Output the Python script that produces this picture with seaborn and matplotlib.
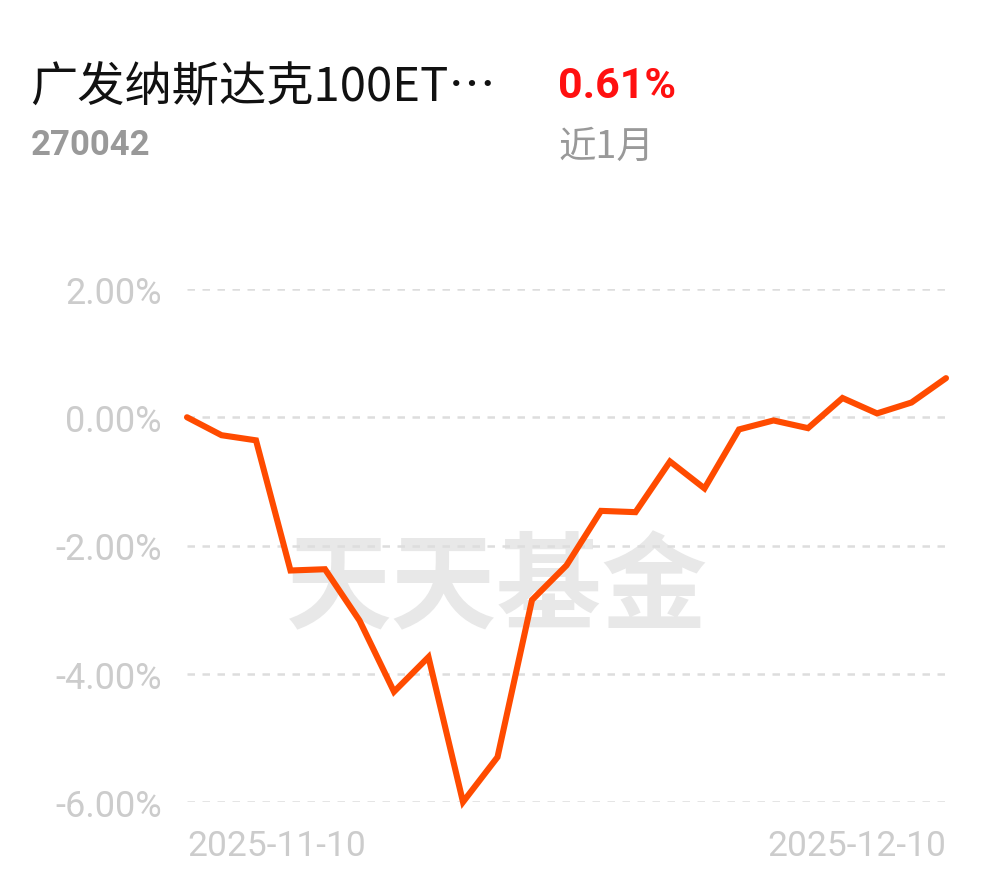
import matplotlib
matplotlib.use('Agg')
import matplotlib.pyplot as plt
import seaborn as sns
import pandas as pd

# Data (cumulative return, %)
dates = ['2025-11-10', '2025-11-11', '2025-11-12', '2025-11-13', '2025-11-14',
         '2025-11-17', '2025-11-18', '2025-11-19', '2025-11-20', '2025-11-21',
         '2025-11-24', '2025-11-25', '2025-11-26', '2025-11-27', '2025-11-28',
         '2025-12-01', '2025-12-02', '2025-12-03', '2025-12-04', '2025-12-05',
         '2025-12-08', '2025-12-09', '2025-12-10']
returns = [0.00, -0.28, -0.36, -2.39, -2.37,
           -3.17, -4.28, -3.74, -6.00, -5.30,
           -2.85, -2.31, -1.46, -1.48, -0.69,
           -1.11, -0.19, -0.05, -0.17, 0.30,
           0.06, 0.23, 0.61]
y_ticks = [2, 0, -2, -4, -6]
fund_name = '广发纳斯达克100ET…'
fund_code = '270042'
period_return = '0.61%'
period_label = '近1月'

df = pd.DataFrame({'idx': range(len(dates)), 'date': dates, 'ret': returns})

sns.set_theme(style='white')
plt.rcParams['font.family'] = ['Noto Sans CJK SC', 'DejaVu Sans']

W, H = 990, 878
fig = plt.figure(figsize=(W / 100, H / 100), dpi=100)
ax = fig.add_axes([187 / W, 1 - 803 / H, (946 - 187) / W, (803 - 290) / H])

# watermark, kept under the line
ax.text(497 / W, 1 - 590 / H, '天天基金', transform=fig.transFigure, fontsize=76,
        fontweight='bold', color='#e8e8e8', ha='center', va='center',
        family=['Noto Sans CJK SC'], zorder=0.5)

sns.lineplot(data=df, x='idx', y='ret', ax=ax, color='#ff4b00', linewidth=4.4,
             clip_on=False, zorder=5)
for line in ax.lines:
    line.set_solid_joinstyle('miter')
    line.set_solid_capstyle('round')

ax.set_xlim(0, len(dates) - 1)
ax.set_ylim(-6, 2)
for v in y_ticks:
    ax.axhline(v, color='#dddddd', linewidth=1.8, linestyle=(0, (3, 3)), zorder=1)

ax.set_yticks(y_ticks)
ax.set_yticklabels([f'{v:.2f}%' for v in y_ticks], family=['Roboto'], fontsize=26,
                   color='#cccccc')
ax.tick_params(axis='y', length=0, pad=18)
ax.set_xticks([])
ax.set_xlabel('')
ax.set_ylabel('')
for s in ax.spines.values():
    s.set_visible(False)

# x date labels at the two ends
ax.text(0, -0.084, dates[0], transform=ax.transAxes,
        ha='left', va='center', fontsize=25.5, color='#cccccc', family=['Roboto'])
ax.text(1, -0.084, dates[-1], transform=ax.transAxes,
        ha='right', va='center', fontsize=25.5, color='#cccccc', family=['Roboto'])

# header
fig.text(30 / W, 1 - 88 / H, fund_name, fontsize=34, color='#111111',
         ha='left', va='center', family=['Noto Sans CJK SC', 'DejaVu Sans'])
fig.text(558 / W, 1 - 87 / H, period_return, fontsize=31, fontweight='bold',
         color='#ff1010', ha='left', va='center', family=['Roboto'])
fig.text(31 / W, 1 - 146 / H, fund_code, fontsize=25, fontweight='bold',
         color='#999999', ha='left', va='center', family=['Roboto'])
fig.text(558 / W, 1 - 147 / H, period_label, fontsize=27, color='#999999',
         ha='left', va='center', family=['Noto Sans CJK SC', 'DejaVu Sans'])

fig.savefig('out.png', dpi=100, facecolor='white')
